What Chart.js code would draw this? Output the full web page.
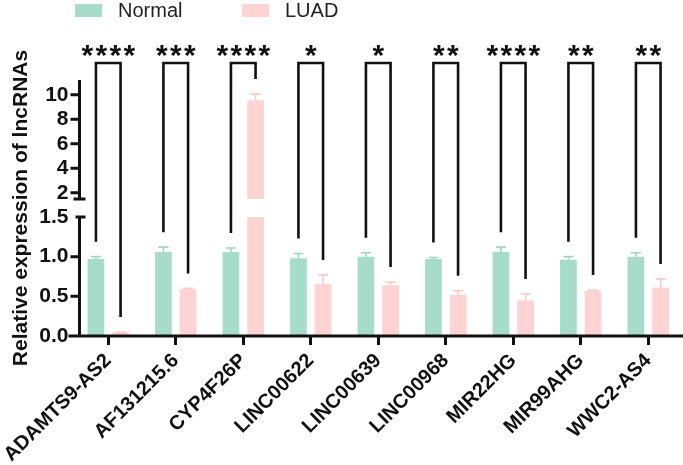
<!DOCTYPE html>
<html>
<head>
<meta charset="utf-8">
<script src="https://cdn.jsdelivr.net/npm/chart.js@4.4.1/dist/chart.umd.min.js"></script>
<style>
  html, body { margin: 0; padding: 0; background: #fff; }
</style>
</head>
<body>
<canvas id="chart" width="683" height="465"></canvas>
<script>
const categories = ['ADAMTS9-AS2', 'AF131215.6', 'CYP4F26P', 'LINC00622', 'LINC00639', 'LINC00968', 'MIR22HG', 'MIR99AHG', 'WWC2-AS4'];
const normalValues = [0.97, 1.06, 1.06, 0.98, 1.00, 0.97, 1.06, 0.96, 1.00];
const normalErr = [0.03, 0.06, 0.05, 0.06, 0.05, 0.02, 0.06, 0.04, 0.05];
const luadValues = [0.05, 0.59, 9.55, 0.66, 0.64, 0.52, 0.45, 0.57, 0.61];
const luadErr = [0.00, 0.01, 0.50, 0.11, 0.04, 0.05, 0.08, 0.01, 0.11];
const stars = ['****', '***', '****', '*', '*', '**', '****', '**', '**'];
const yTicks = [0, 0.5, 1.0, 1.5, 2, 4, 6, 8, 10];

// broken y axis: lower segment 0-1.5, upper segment 1.5-11.2
const LOW_MAX = 1.5, UP_MIN = 1.5, UP_MAX = 11.2, GAP = 18;

const green = '#a8dcca';
const pink = '#fdd3d3';
const FONT = 'Liberation Sans, Arial, sans-serif';

class BrokenScale extends Chart.LinearScale {
  buildTicks() {
    this.start = this.min;
    this.end = this.max;
    return yTicks.map(v => ({value: v}));
  }
  segH() { return (this.bottom - this.top - GAP) / 2; }
  getPixelForValue(v) {
    const h = this.segH();
    if (v <= LOW_MAX) return this.bottom - v / LOW_MAX * h;
    return this.top + h - (v - UP_MIN) / (UP_MAX - UP_MIN) * h;
  }
  getValueForPixel(p) {
    const h = this.segH();
    if (p >= this.bottom - h) return (this.bottom - p) / h * LOW_MAX;
    return UP_MIN + (this.top + h - p) / h * (UP_MAX - UP_MIN);
  }
}
BrokenScale.id = 'broken';
BrokenScale.defaults = {};
Chart.register(BrokenScale);

const extras = {
  id: 'extras',
  afterDatasetsDraw(chart) {
    const ctx = chart.ctx;
    const area = chart.chartArea;
    const y = chart.scales.y;
    const h = y.segH();
    const upBottom = y.top + h;
    const lowTop = y.bottom - h;
    const m0 = chart.getDatasetMeta(0).data;
    const m1 = chart.getDatasetMeta(1).data;

    ctx.save();
    // gap of the broken axis
    ctx.fillStyle = '#fff';
    ctx.fillRect(area.left, upBottom, area.right - area.left, lowTop - upBottom);

    // error bars (upper half)
    function errBar(x, v, e, color) {
      const y0 = y.getPixelForValue(v);
      const y1 = y.getPixelForValue(v + e);
      ctx.strokeStyle = color;
      ctx.lineWidth = 1.6;
      ctx.beginPath();
      ctx.moveTo(x, y0); ctx.lineTo(x, y1);
      ctx.moveTo(x - 5, y1); ctx.lineTo(x + 5, y1);
      ctx.stroke();
    }
    categories.forEach((c, i) => {
      errBar(m0[i].x, normalValues[i], normalErr[i], '#9dd5c1');
      errBar(m1[i].x, luadValues[i], luadErr[i], '#fbc8c8');
    });

    // axes
    const ax = area.left + 5;
    ctx.strokeStyle = '#111';
    ctx.lineWidth = 3;
    ctx.beginPath();
    ctx.moveTo(ax, area.top); ctx.lineTo(ax, upBottom);
    ctx.moveTo(ax, lowTop); ctx.lineTo(ax, area.bottom);
    ctx.moveTo(area.left - 6, area.bottom); ctx.lineTo(area.right + 1, area.bottom);
    yTicks.forEach(v => {
      if (v === LOW_MAX) return;
      const p = y.getPixelForValue(v);
      ctx.moveTo(ax - 9, p); ctx.lineTo(ax, p);
    });
    ctx.moveTo(ax - 6, upBottom); ctx.lineTo(ax + 6, upBottom);
    ctx.moveTo(ax - 4, lowTop); ctx.lineTo(ax + 6, lowTop);
    ctx.stroke();

    // significance brackets
    const topY = area.top - 17;
    ctx.lineWidth = 2.6;
    ctx.strokeStyle = '#111';
    ctx.fillStyle = '#111';
    ctx.font = 'bold 30px ' + FONT;
    ctx.textAlign = 'center';
    ctx.textBaseline = 'alphabetic';
    categories.forEach((c, i) => {
      const xl = m0[i].x, xr = m1[i].x;
      const yl = y.getPixelForValue(normalValues[i] + normalErr[i]) - 15;
      const yr = y.getPixelForValue(luadValues[i] + luadErr[i]) - 15;
      ctx.beginPath();
      ctx.moveTo(xl, yl); ctx.lineTo(xl, topY); ctx.lineTo(xr, topY); ctx.lineTo(xr, yr);
      ctx.stroke();
      const n = stars[i].length;
      const cx = (xl + xr) / 2;
      for (let k = 0; k < n; k++) {
        ctx.fillText('*', cx + (k - (n - 1) / 2) * 14, topY + 2);
      }
    });

    // legend
    ctx.font = '20px ' + FONT;
    ctx.textAlign = 'left';
    ctx.textBaseline = 'middle';
    ctx.fillStyle = green;
    ctx.fillRect(75, 4, 27, 13);
    ctx.fillStyle = pink;
    ctx.fillRect(242, 4, 27, 13);
    ctx.fillStyle = '#222';
    ctx.fillText(chart.data.datasets[0].label, 118, 11);
    ctx.fillText(chart.data.datasets[1].label, 285, 11);
    ctx.restore();
  }
};

new Chart(document.getElementById('chart'), {
  type: 'bar',
  data: {
    labels: categories,
    datasets: [
      {label: 'Normal', data: normalValues, backgroundColor: green, barPercentage: 0.68, categoryPercentage: 0.73},
      {label: 'LUAD', data: luadValues, backgroundColor: pink, barPercentage: 0.68, categoryPercentage: 0.73}
    ]
  },
  options: {
    responsive: false,
    animation: false,
    devicePixelRatio: 1,
    layout: {padding: {top: 80, right: 1, left: 0, bottom: 0}},
    plugins: {legend: {display: false}, tooltip: {enabled: false}},
    scales: {
      x: {
        offset: true,
        grid: {display: true, drawOnChartArea: false, offset: false, tickLength: 9, tickWidth: 3, tickColor: '#111'},
        border: {display: false},
        ticks: {minRotation: 45, maxRotation: 45, autoSkip: false, padding: 4, color: '#111',
                font: {family: FONT, size: 20, weight: 'bold'}},
        afterFit: s => { s.height = 129; }
      },
      y: {
        type: 'broken',
        min: 0,
        max: UP_MAX,
        grid: {display: false, drawTicks: false},
        border: {display: false},
        ticks: {autoSkip: false, padding: 6, color: '#111',
                font: {family: FONT, size: 21, weight: 'bold'},
                callback: v => v <= LOW_MAX ? v.toFixed(1) : String(v)},
        title: {display: true, text: 'Relative expression of lncRNAs', color: '#111', padding: 0,
                font: {family: FONT, size: 21, weight: 'bold'}},
        afterFit: s => { s.width = 66; }
      }
    }
  },
  plugins: [extras]
});
</script>
</body>
</html>
